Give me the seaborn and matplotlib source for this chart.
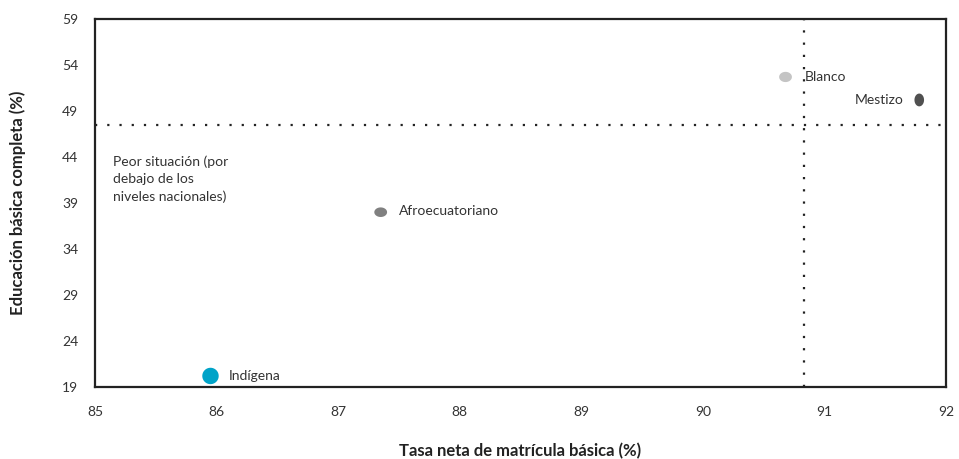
import numpy as np
import pandas as pd
import seaborn as sns
import matplotlib.pyplot as plt
from matplotlib.path import Path

grupos = ['Indígena', 'Afroecuatoriano', 'Blanco', 'Mestizo']
tasa_matricula = [85.95, 87.35, 90.68, 91.78]
educacion_basica = [20.2, 38.0, 52.7, 50.2]
colores = ['#00a3c8', '#808080', '#c4c4c4', '#505050']
tamanos = [140, 85, 85, 85]
nivel_nacional_x = 90.83
nivel_nacional_y = 47.5
xticks = [85, 86, 87, 88, 89, 90, 91, 92]
yticks = [19, 24, 29, 34, 39, 44, 49, 54, 59]


def elipse(ancho, alto):
    t = np.linspace(0, 2 * np.pi, 40)
    return Path(np.column_stack([ancho * np.cos(t), alto * np.sin(t)]), closed=True)


marcadores = {
    'Indígena': elipse(1, 1),
    'Afroecuatoriano': elipse(1, 0.75),
    'Blanco': elipse(1, 0.8),
    'Mestizo': elipse(0.75, 1),
}

sns.set_style('white')
plt.rcParams['font.family'] = ['Lato', 'DejaVu Sans']

df = pd.DataFrame({'grupo': grupos, 'x': tasa_matricula, 'y': educacion_basica})

fig = plt.figure(figsize=(9.59, 4.59), dpi=100)
ax = fig.add_axes([95 / 959, 1 - 387 / 459, (946 - 95) / 959, (387 - 19) / 459])

ax.axvline(nivel_nacional_x, color='#222222', lw=1.6, ls=(0, (1, 4.5)), zorder=1)
ax.axhline(nivel_nacional_y, color='#222222', lw=1.6, ls=(0, (1, 4.5)), zorder=1)

sns.scatterplot(data=df, x='x', y='y', hue='grupo', palette=colores, size='grupo',
                sizes=dict(zip(grupos, tamanos)), style='grupo', markers=marcadores,
                legend=False, edgecolor='none', ax=ax, zorder=3)

# etiquetas de cada punto
ax.text(86.1, 20.2, 'Indígena', va='center', ha='left', fontsize=10, color='#333333')
ax.text(87.5, 38.1, 'Afroecuatoriano', va='center', ha='left', fontsize=10, color='#333333')
ax.text(90.84, 52.7, 'Blanco', va='center', ha='left', fontsize=10, color='#333333')
ax.text(91.65, 50.2, 'Mestizo', va='center', ha='right', fontsize=10, color='#333333')

ax.text(85.15, 44.2, 'Peor situación (por\ndebajo de los\nniveles nacionales)', va='top', ha='left',
        fontsize=10, color='#333333', linespacing=1.5)

ax.set_xlim(85, 92)
ax.set_ylim(19, 59)
ax.set_xticks(xticks)
ax.set_yticks(yticks)
ax.tick_params(axis='both', length=0, labelsize=10, labelcolor='#333333')
ax.tick_params(axis='x', pad=14)
ax.tick_params(axis='y', pad=12)
for s in ax.spines.values():
    s.set_visible(True)
    s.set_color('#222222')
    s.set_linewidth(1.6)

ax.set_xlabel('Tasa neta de matrícula básica (%)', fontsize=12, fontweight='bold', color='#222222', labelpad=18)
ax.set_ylabel('Educación básica completa (%)', fontsize=12, fontweight='bold', color='#222222', labelpad=26)

fig.savefig('out.png', dpi=100)
